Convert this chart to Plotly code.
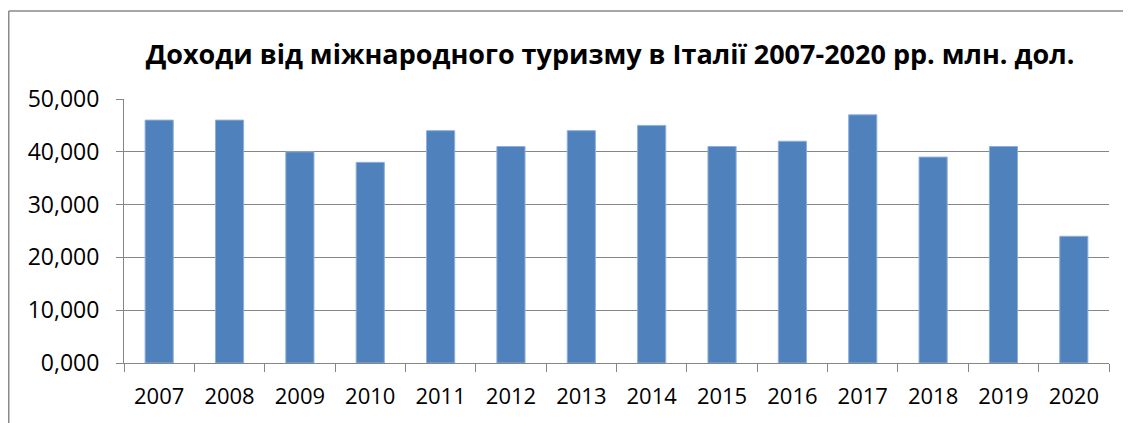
import plotly.graph_objects as go

years = ["2007", "2008", "2009", "2010", "2011", "2012", "2013",
         "2014", "2015", "2016", "2017", "2018", "2019", "2020"]
revenue = [46000, 46000, 40000, 38000, 44000, 41000, 44000,
           45000, 41000, 42000, 47000, 39000, 41000, 24000]
y_tick_vals = [0, 10000, 20000, 30000, 40000, 50000]
y_tick_text = ["0,000", "10,000", "20,000", "30,000", "40,000", "50,000"]
title_text = "Доходи від міжнародного туризму в Італії 2007-2020 рр. млн. дол."

# page has an 8px body margin, so the figure is sized to the visible area
W, H = 1123, 415
L, R, T, B = 116, 22, 91, 60
pw, ph = W - L - R, H - T - B

def px(x):
    return (x - L) / pw

def py(y):
    return (H - B - y) / ph

fig = go.Figure()
fig.add_trace(go.Bar(
    x=years, y=revenue,
    marker=dict(color="#4F81BD", line=dict(color="#8DB0DA", width=1)),
    width=0.4,
))

frame_color = "#8A8A8A"
fig.add_shape(type="line", xref="paper", yref="paper",
              x0=px(0.75), x1=px(W + 5), y0=py(3), y1=py(3),
              line=dict(color=frame_color, width=1.5))
fig.add_shape(type="line", xref="paper", yref="paper",
              x0=px(0.75), x1=px(0.75), y0=py(3), y1=py(H + 5),
              line=dict(color=frame_color, width=1.5))

fig.update_layout(
    width=W, height=H,
    margin=dict(l=L, r=R, t=T, b=B),
    paper_bgcolor="white", plot_bgcolor="white",
    showlegend=False,
    font=dict(family="Open Sans", color="black"),
    title=dict(text="<b>" + title_text + "</b>", x=602 / W, xanchor="center",
               y=1 - 47 / H, yanchor="middle",
               font=dict(family="Open Sans", size=27, color="black")),
    bargap=0.6,
)
fig.update_xaxes(
    type="category", tickson="boundaries", ticks="outside", ticklen=8,
    tickcolor="#868686", showline=True, linecolor="#868686", linewidth=1,
    showgrid=False, tickfont=dict(size=22, color="black"),
    ticklabelstandoff=14,
)
fig.update_yaxes(
    range=[0, 50000], tickvals=y_tick_vals, ticktext=y_tick_text,
    ticks="outside", ticklen=7, tickcolor="#868686",
    showline=True, linecolor="#868686", linewidth=1,
    showgrid=True, gridcolor="#868686", gridwidth=1,
    tickfont=dict(size=23, color="black"), zeroline=False,
    ticklabelstandoff=12,
)

fig.write_html("out.html")
